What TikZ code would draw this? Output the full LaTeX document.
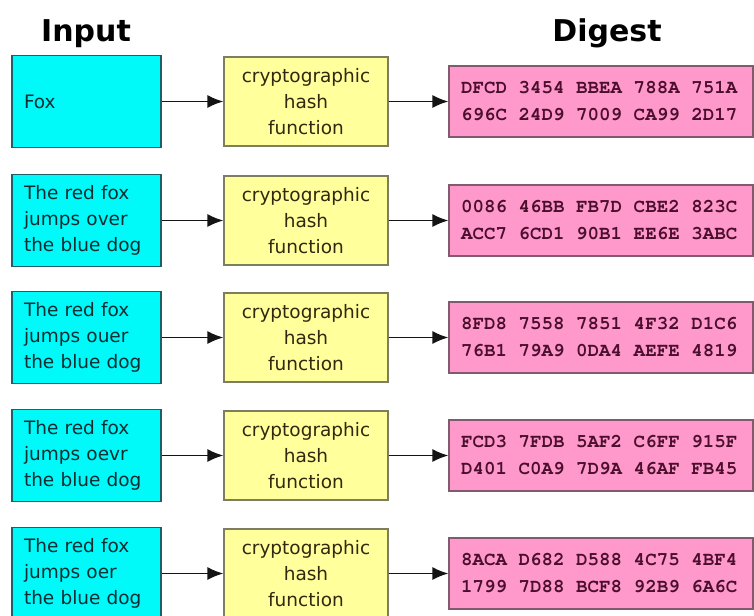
\documentclass[tikz,border=0pt]{standalone}
\usepackage[T1]{fontenc}
\usepackage{fontspec}
\setmainfont{DejaVu Sans}
\usepackage{tikz}
\usepackage{xcolor}
\usetikzlibrary{arrows.meta}

\newcommand{\digestfont}{\fontencoding{T1}\fontfamily{pcr}\fontseries{b}\fontsize{19.2pt}{27pt}\selectfont\spaceskip=11.5pt\relax}

\begin{document}
\begin{tikzpicture}[x=1pt,y=1pt,yscale=-1,xscale=1,
  inputbox/.style={draw={rgb,255:red,30;green,95;blue,105},line width=1.2pt,fill={rgb,255:red,0;green,250;blue,250},
    text={rgb,255:red,10;green,45;blue,50},minimum width=149pt,minimum height=92pt,inner xsep=12pt,
    text width=125pt,align=left,font=\fontsize{18.5pt}{26pt}\selectfont},
  hashbox/.style={draw={rgb,255:red,125;green,125;blue,95},line width=1.2pt,fill={rgb,255:red,255;green,255;blue,155},
    text={rgb,255:red,50;green,40;blue,15},minimum width=164pt,minimum height=89pt,inner sep=0pt,
    align=center,font=\fontsize{18.5pt}{26pt}\selectfont},
  digestbox/.style={draw={rgb,255:red,130;green,90;blue,110},line width=1.2pt,fill={rgb,255:red,255;green,153;blue,204},
    text={rgb,255:red,75;green,15;blue,45},minimum width=304pt,minimum height=71pt,inner xsep=12pt,
    text width=280pt,align=flush left,font=\digestfont},
  title/.style={anchor=base,font=\fontsize{30pt}{36pt}\selectfont\bfseries},
  arr/.style={draw={rgb,255:red,20;green,20;blue,20},line width=1.6pt,-{Latex[length=16pt,width=13pt]}}]
\useasboundingbox (0,0) rectangle (754,615);

% Text Node
\node [title] (tin) at (86,42) {Input};
% Text Node
\node [title] (tdig) at (607,42) {Digest};

%Shape: Rectangle [row 1]
\node [inputbox] (in1) at (86.5,101.5) {Fox};
\node [hashbox] (hf1) at (306,101.5) {cryptographic\\hash\\function};
\node [digestbox] (dg1) at (601,101.5) {DFCD 3454 BBEA 788A 751A\\696C 24D9 7009 CA99 2D17};
%Shape: Rectangle [row 2]
\node [inputbox] (in2) at (86.5,220.5) {The red fox\\jumps over\\the blue dog};
\node [hashbox] (hf2) at (306,220.5) {cryptographic\\hash\\function};
\node [digestbox] (dg2) at (601,220.5) {0086 46BB FB7D CBE2 823C\\ACC7 6CD1 90B1 EE6E 3ABC};
%Shape: Rectangle [row 3]
\node [inputbox] (in3) at (86.5,337.5) {The red fox\\jumps ouer\\the blue dog};
\node [hashbox] (hf3) at (306,337.5) {cryptographic\\hash\\function};
\node [digestbox] (dg3) at (601,337.5) {8FD8 7558 7851 4F32 D1C6\\76B1 79A9 0DA4 AEFE 4819};
%Shape: Rectangle [row 4]
\node [inputbox] (in4) at (86.5,455.5) {The red fox\\jumps oevr\\the blue dog};
\node [hashbox] (hf4) at (306,455.5) {cryptographic\\hash\\function};
\node [digestbox] (dg4) at (601,455.5) {FCD3 7FDB 5AF2 C6FF 915F\\D401 C0A9 7D9A 46AF FB45};
%Shape: Rectangle [row 5]
\node [inputbox] (in5) at (86.5,573.5) {The red fox\\jumps oer\\the blue dog};
\node [hashbox] (hf5) at (306,573.5) {cryptographic\\hash\\function};
\node [digestbox] (dg5) at (601,573.5) {8ACA D682 D588 4C75 4BF4\\1799 7D88 BCF8 92B9 6A6C};

%Straight Lines [arrows]
\draw [arr] (in1) -- (hf1);
\draw [arr] (hf1) -- (dg1);
\draw [arr] (in2) -- (hf2);
\draw [arr] (hf2) -- (dg2);
\draw [arr] (in3) -- (hf3);
\draw [arr] (hf3) -- (dg3);
\draw [arr] (in4) -- (hf4);
\draw [arr] (hf4) -- (dg4);
\draw [arr] (in5) -- (hf5);
\draw [arr] (hf5) -- (dg5);

\end{tikzpicture}
\end{document}
